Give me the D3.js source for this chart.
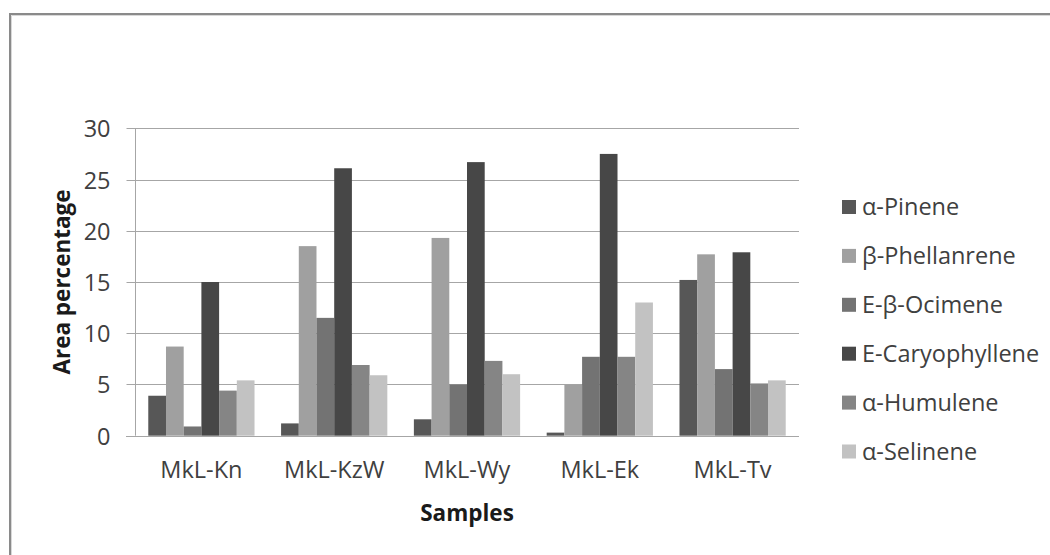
<!DOCTYPE html>
<html><head><meta charset="utf-8">
<script src="https://cdn.jsdelivr.net/npm/d3@7"></script>
<style>body{margin:0;background:#fff}svg{display:block}</style>
</head><body>
<svg id="c" width="1050" height="555"></svg>
<script>
const categories = ["MkL-Kn","MkL-KzW","MkL-Wy","MkL-Ek","MkL-Tv"];
const seriesNames = ["α-Pinene","β-Phellanrene","E-β-Ocimene","E-Caryophyllene","α-Humulene","α-Selinene"];
const alphaPinene = [3.9, 1.2, 1.6, 0.3, 15.2];
const betaPhellandrene = [8.7, 18.5, 19.3, 5.0, 17.7];
const eBetaOcimene = [0.9, 11.5, 5.0, 7.7, 6.5];
const eCaryophyllene = [15.0, 26.1, 26.7, 27.5, 17.9];
const alphaHumulene = [4.4, 6.9, 7.3, 7.7, 5.1];
const alphaSelinene = [5.4, 5.9, 6.0, 13.0, 5.4];
const yTicks = [0, 5, 10, 15, 20, 25, 30];
const colors = ["#575757","#a0a0a0","#737373","#474747","#858585","#c2c2c2"];
const seriesValues = [alphaPinene, betaPhellandrene, eBetaOcimene, eCaryophyllene, alphaHumulene, alphaSelinene];

const svg = d3.select("#c");
const font = "'Open Sans', Lato, sans-serif";
const fs = "23.5px", fsBold = "22.5px";
const L = 135, R = 799, T = 128.3, B = 435.7;

// outer border
svg.append("path").attr("d", "M10,560 L10,14 L1060,14").attr("fill","none").attr("stroke","#8a8a8a").attr("stroke-width",2);
svg.append("path").attr("d", "M11.5,560 L11.5,15.5 L1060,15.5").attr("fill","none").attr("stroke","#d8d8d8").attr("stroke-width",1);

const x0 = d3.scaleBand().domain(categories).range([L, R]).paddingInner(0.2).paddingOuter(0.1);
const x1 = d3.scaleBand().domain(seriesNames).range([0, x0.bandwidth()]);
const y = d3.scaleLinear().domain([0, 30]).range([B, T]);

// gridlines
svg.append("g").selectAll("line").data(yTicks.filter(d => d > 0)).join("line")
  .attr("x1", L).attr("x2", R).attr("y1", d => Math.round(y(d)) + 0.5).attr("y2", d => Math.round(y(d)) + 0.5)
  .attr("stroke", "#a6a6a6").attr("stroke-width", 1);

// y axis
const yAxis = d3.axisLeft(y).tickValues(yTicks).tickSize(9).tickPadding(16).tickFormat(d3.format("d"));
const gy = svg.append("g").attr("transform", `translate(${L + 0.5},0)`).call(yAxis);
gy.select(".domain").attr("stroke", "#a6a6a6").attr("d", `M0,${T}V${B}`);
gy.selectAll(".tick line").attr("stroke", "#a6a6a6");
gy.selectAll(".tick").attr("transform", d => `translate(0,${Math.round(y(d)) + 0.5})`);
gy.selectAll(".tick text").attr("fill", "#404040").attr("dy", "0.36em").style("font-family", font).style("font-size", fs);

// bars
const groups = svg.append("g").selectAll("g").data(categories).join("g")
  .attr("transform", d => `translate(${x0(d)},0)`);
groups.selectAll("rect").data((c, i) => seriesNames.map((s, j) => ({s, j, v: seriesValues[j][i]}))).join("rect")
  .attr("x", d => x1(d.s)).attr("width", x1.bandwidth())
  .attr("y", d => y(d.v)).attr("height", d => y(0) - y(d.v))
  .attr("fill", d => colors[d.j]);

// x axis
const xAxis = d3.axisBottom(x0).tickSize(0).tickPadding(25);
const gx = svg.append("g").attr("transform", `translate(0,${Math.round(B) + 0.5})`).call(xAxis);
gx.select(".domain").attr("stroke", "#a6a6a6").attr("d", `M${L - 9},0H${R}`);
gx.selectAll(".tick text").attr("fill", "#404040").style("font-family", font).style("font-size", fs);

// axis titles
svg.append("text").attr("x", (L + R) / 2).attr("y", 521).attr("text-anchor", "middle")
  .style("font-family", font).style("font-size", fsBold).style("font-weight", "bold").attr("fill", "#1a1a1a").text("Samples");
svg.append("text").attr("transform", `translate(70,${(T + B) / 2}) rotate(-90)`).attr("text-anchor", "middle")
  .style("font-family", font).style("font-size", fsBold).style("font-weight", "bold").attr("fill", "#1a1a1a").text("Area percentage");

// legend
const leg = svg.append("g").selectAll("g").data(seriesNames).join("g")
  .attr("transform", (d, i) => `translate(842,${207 + i * 48.9})`);
leg.append("rect").attr("x", 0).attr("y", -7).attr("width", 14).attr("height", 14).attr("fill", (d, i) => colors[i]);
leg.append("text").attr("x", 20).attr("y", 0).attr("dy", "0.36em")
  .style("font-family", font).style("font-size", fs).attr("fill", "#404040").text(d => d);
</script>
</body></html>
